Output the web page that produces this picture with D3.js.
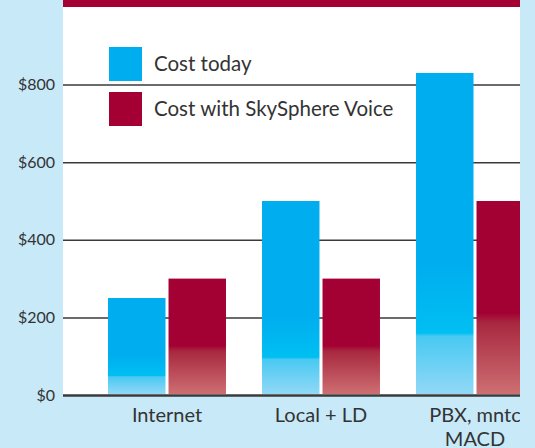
<!DOCTYPE html>
<html>
<head>
<meta charset="utf-8">
<script src="https://cdn.jsdelivr.net/npm/d3@7"></script>
<style>
  body { margin: 0; background: #c8e9f8; }
  svg { display: block; }
  text { font-family: Lato, "Open Sans", sans-serif; fill: #333; }
</style>
</head>
<body>
<div id="grafico"></div>
<script>
// Datos del grafico
var categorias = ["Internet", "Local + LD", "PBX, mntc MACD"];
var etiquetasX = [["Internet"], ["Local + LD"], ["PBX, mntc", "MACD"]];
var series = ["Cost today", "Cost with SkySphere Voice"];
var costoHoy = [250, 500, 830];
var costoSkySphere = [300, 300, 500];
var ticksY = [0, 200, 400, 600, 800];

var width = 535;
var height = 448;
var izq = 63, der = 520, arriba = 7, base = 395;

var svg = d3.select("#grafico")
    .append("svg")
    .attr("width", width)
    .attr("height", height);

// Degradados de las barras
var defs = svg.append("defs");
var gAzul = defs.append("linearGradient").attr("id", "azul")
    .attr("x1", 0).attr("y1", 0).attr("x2", 0).attr("y2", 1);
[["0%", "#00adee"], ["60%", "#00aeef"], ["81%", "#00bff2"], ["82%", "#48c9f2"], ["100%", "#92d8f6"]]
    .forEach(function(s) { gAzul.append("stop").attr("offset", s[0]).attr("stop-color", s[1]); });
var gRojo = defs.append("linearGradient").attr("id", "rojo")
    .attr("x1", 0).attr("y1", 0).attr("x2", 0).attr("y2", 1);
[["0%", "#a30034"], ["58%", "#a30034"], ["63%", "#a8283f"], ["100%", "#cd6f72"]]
    .forEach(function(s) { gRojo.append("stop").attr("offset", s[0]).attr("stop-color", s[1]); });
defs.append("clipPath").attr("id", "recorte")
    .append("rect").attr("x", izq).attr("y", 0).attr("width", der - izq).attr("height", height);

// Area blanca y franja superior
svg.append("rect").attr("x", izq).attr("y", 0).attr("width", der - izq).attr("height", base)
    .attr("fill", "#fff");
svg.append("rect").attr("x", izq).attr("y", 0).attr("width", der - izq).attr("height", arriba)
    .attr("fill", "#a50034");

// Escalas
var y = d3.scaleLinear().domain([0, 1000]).range([base, base - 388]);
var x0 = d3.scaleBand().domain(categorias).range([90, 90 + 462])
    .paddingInner(0.234).paddingOuter(0.117);
var x1 = d3.scaleBand().domain(series).range([0, x0.bandwidth()]).paddingInner(0.05);
var color = d3.scaleOrdinal().domain(series).range(["url(#azul)", "url(#rojo)"]);

// Lineas de cuadricula y etiquetas del eje Y
var ejeY = svg.append("g")
    .attr("transform", "translate(" + izq + ",0)")
    .call(d3.axisLeft(y).tickValues(ticksY).tickSize(-(der - izq)).tickPadding(8)
        .tickFormat(function(d) { return "$" + d; }));
ejeY.select(".domain").remove();
ejeY.selectAll("line")
    .attr("stroke", "#3a3a3a")
    .attr("stroke-width", function(d) { return d === 0 ? 2.5 : 1.5; });
ejeY.selectAll("text").attr("font-size", 16).attr("fill", "#333");

// Barras
var grupos = svg.append("g").attr("clip-path", "url(#recorte)")
    .selectAll("g")
    .data(categorias)
    .enter()
    .append("g")
    .attr("transform", function(d) { return "translate(" + x0(d) + ",0)"; });

grupos.selectAll("rect")
    .data(function(d, i) {
        return [{ serie: series[0], valor: costoHoy[i] }, { serie: series[1], valor: costoSkySphere[i] }];
    })
    .enter()
    .append("rect")
    .attr("x", function(d) { return x1(d.serie); })
    .attr("y", function(d) { return y(d.valor); })
    .attr("width", x1.bandwidth())
    .attr("height", function(d) { return y(0) - y(d.valor) - 1; })
    .attr("fill", function(d) { return color(d.serie); });

// Etiquetas del eje X
var ejeX = svg.append("g").attr("transform", "translate(0," + base + ")")
    .call(d3.axisBottom(x0).tickSize(0).tickFormat(""));
ejeX.select(".domain").remove();
ejeX.selectAll(".tick").each(function(d, i) {
    var t = d3.select(this).append("text")
        .attr("text-anchor", "middle")
        .attr("font-size", 20)
        .attr("fill", "#333");
    etiquetasX[i].forEach(function(linea, j) {
        t.append("tspan").attr("x", 0).attr("y", 27 + j * 24).text(linea);
    });
});

// Franja derecha del fondo
svg.append("rect").attr("x", der).attr("y", 0).attr("width", width - der).attr("height", height)
    .attr("fill", "#c8e9f8");

// Leyenda
var leyenda = svg.append("g").attr("transform", "translate(109,47)")
    .selectAll("g")
    .data(series)
    .enter()
    .append("g")
    .attr("transform", function(d, i) { return "translate(0," + i * 45 + ")"; });
leyenda.append("rect")
    .attr("width", 33).attr("height", 34)
    .attr("fill", function(d, i) { return ["#00aeef", "#a50034"][i]; });
leyenda.append("text")
    .attr("x", 45).attr("y", 17).attr("dy", "0.35em")
    .attr("font-size", 20.5).attr("fill", "#333")
    .text(function(d) { return d; });
</script>
</body>
</html>
